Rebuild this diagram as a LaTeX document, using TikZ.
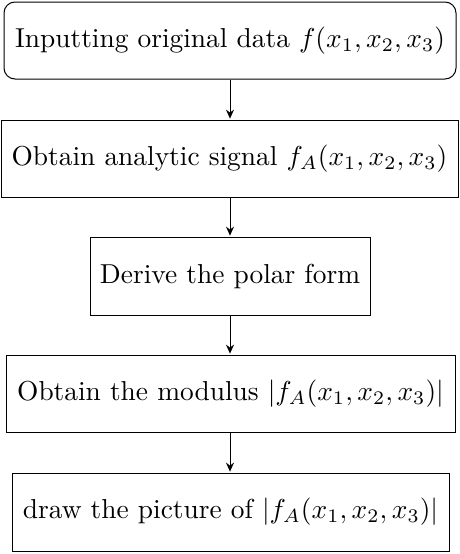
\documentclass[tikz,border=0pt]{standalone}
\usetikzlibrary{arrows.meta}
\begin{document}
\begin{tikzpicture}[x=1pt,y=-1pt,
  box/.style={draw,line width=1pt,inner sep=0pt,align=center,scale=2.74,transform shape},
  conn/.style={line width=1pt,-{Stealth[length=9pt,width=8pt,inset=3pt]}}]
\useasboundingbox (0,0) rectangle (460,554);
\node[box,rounded corners=11pt,minimum width=452pt/2.74,minimum height=77pt/2.74] (a) at (230,40.5) {Inputting original data $f(x_1,x_2,x_3)$};
\node[box,minimum width=457pt/2.74,minimum height=77pt/2.74] (b) at (229.5,158.5) {Obtain analytic signal $f_A(x_1,x_2,x_3)$};
\node[box,minimum width=280pt/2.74,minimum height=78pt/2.74] (c) at (230,276) {Derive the polar form};
\node[box,minimum width=449pt/2.74,minimum height=77pt/2.74] (d) at (230.5,393.5) {Obtain the modulus $|f_A(x_1,x_2,x_3)|$};
\node[box,minimum width=437pt/2.74,minimum height=78pt/2.74] (e) at (230.5,512) {draw the picture of $|f_A(x_1,x_2,x_3)|$};
\draw[conn] (a.south) -- (a.south |- b.north);
\draw[conn] (b.south -| c.north) -- (c.north);
\draw[conn] (c.south) -- (c.south |- d.north);
\draw[conn] (d.south -| c.south) -- (c.south |- e.north);
\end{tikzpicture}
\end{document}
